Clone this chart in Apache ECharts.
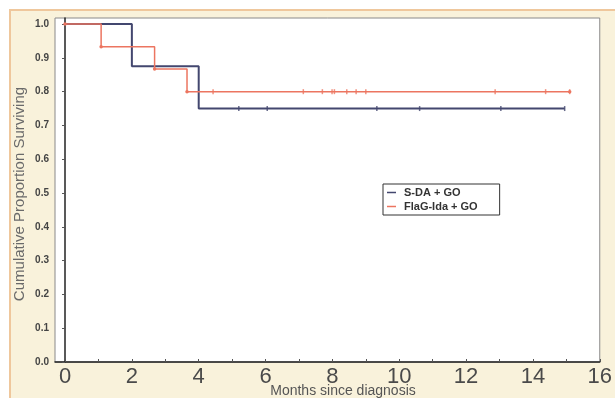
<!DOCTYPE html>
<html>
<head>
<meta charset="utf-8">
<script src="https://cdn.jsdelivr.net/npm/echarts@6/dist/echarts.min.js"></script>
<style>html,body{margin:0;padding:0;background:#fff}#c{width:615px;height:398px}</style>
</head>
<body>
<div id="c"></div>
<script>
// ---- data ----
var seriesNames = ['S-DA + GO', 'FlaG-Ida + GO'];
var blueTimes = [0, 2.0, 4.0, 14.95];
var blueSurv  = [1.0, 0.875, 0.75, 0.75];
var redTimes  = [0, 1.08, 2.68, 3.65, 15.1];
var redSurv   = [1.0, 0.933, 0.867, 0.8, 0.8];
var blueCensorTimes = [5.2, 6.05, 9.33, 10.61, 13.04, 14.95];
var blueCensorSurv  = 0.75;
var redCensorTimes  = [4.43, 7.13, 7.7, 7.99, 8.06, 8.43, 8.71, 9.0, 12.87, 14.38, 15.1];
var redCensorSurv   = 0.8;
var xTickLabels = [0, 2, 4, 6, 8, 10, 12, 14, 16];
var xMinorTicks = [0,1,2,3,4,5,6,7,8,9,10,11,12,13,14,15,16];
var yTickLabels = ['0.0','0.1','0.2','0.3','0.4','0.5','0.6','0.7','0.8','0.9','1.0'];
var xTitle = 'Months since diagnosis';
var yTitle = 'Cumulative Proportion Surviving';

function zip(a, b) { return a.map(function (v, i) { return [v, b[i]]; }); }
function censor(ts, s) { return ts.map(function (t) { return [t, s]; }); }

var BLUE = '#43476f', RED = '#ec7560';
var chart = echarts.init(document.getElementById('c'), null, {renderer: 'canvas'});
chart.setOption({
  animation: false,
  backgroundColor: '#ffffff',
  graphic: [
    {type: 'rect', z: -10, silent: true, shape: {x: 10, y: 10, width: 620, height: 400},
     style: {fill: '#f9f2db', stroke: '#efc79c', lineWidth: 2}},
    {type: 'text', z: 10, x: 343, y: 391, style: {text: xTitle, fill: '#555', font: '14px "Liberation Sans", Arial', textAlign: 'center', textVerticalAlign: 'middle'}},
    {type: 'text', z: 10, x: 20, y: 194, rotation: Math.PI / 2, style: {text: yTitle, fill: '#6a6a6a', font: '15px "Liberation Sans", Arial', textAlign: 'center', textVerticalAlign: 'middle'}}
  ],
  grid: {left: 55, top: 18, right: 6, bottom: 36, show: true, backgroundColor: '#fff', borderColor: '#8a8a8a', borderWidth: 1},
  legend: {
    data: seriesNames, orient: 'vertical', left: 383, top: 184,
    backgroundColor: '#fff', borderColor: '#333', borderWidth: 1, padding: [2, 22, 2, 4],
    icon: 'rect', itemWidth: 9, itemHeight: 1.5, itemGap: 1,
    textStyle: {fontSize: 11, fontWeight: 'bold', color: '#333', fontFamily: '"Liberation Sans", Arial', lineHeight: 13, padding: [0,0,0,3]}
  },
  xAxis: {
    type: 'value', min: -0.3, max: 16,
    axisLine: {show: true, lineStyle: {color: '#222', width: 1.5}},
    axisTick: {show: true, inside: true, length: 3, customValues: xMinorTicks, lineStyle: {color: '#555'}},
    axisLabel: {customValues: xTickLabels, margin: 4, fontSize: 22, color: '#4a4a4a', fontFamily: '"Liberation Sans", Arial',
      formatter: function (v) { return String(v); }},
    splitLine: {show: false}
  },
  yAxis: {
    type: 'value', min: 0, max: 1.018,
    axisLine: {show: true, lineStyle: {color: '#222', width: 1.5}},
    axisTick: {show: true, length: 3, customValues: yTickLabels.map(Number), lineStyle: {color: '#555'}},
    axisLabel: {customValues: yTickLabels.map(Number), margin: 6, fontSize: 10, fontWeight: 'bold', color: '#444', fontFamily: '"Liberation Sans", Arial',
      formatter: function (v) { return Number(v).toFixed(1); }},
    splitLine: {show: false}
  },
  series: [
    {name: seriesNames[0], type: 'line', step: 'end', data: zip(blueTimes, blueSurv), color: BLUE,
     lineStyle: {color: BLUE, width: 2}, showSymbol: false, symbol: 'none', z: 3},
    {name: seriesNames[1], type: 'line', step: 'end', data: zip(redTimes, redSurv), color: RED,
     lineStyle: {color: RED, width: 1.5}, symbol: 'circle', symbolSize: 3.5, showSymbol: true,
     itemStyle: {color: RED}, z: 4},
    {name: 'bc', type: 'scatter', data: censor(blueCensorTimes, blueCensorSurv), symbol: 'rect', symbolSize: [1.5, 5],
     itemStyle: {color: BLUE}, z: 5},
    {name: 'rc', type: 'scatter', data: censor(redCensorTimes, redCensorSurv), symbol: 'rect', symbolSize: [1.5, 5],
     itemStyle: {color: RED}, z: 5}
  ]
});
</script>
</body>
</html>
